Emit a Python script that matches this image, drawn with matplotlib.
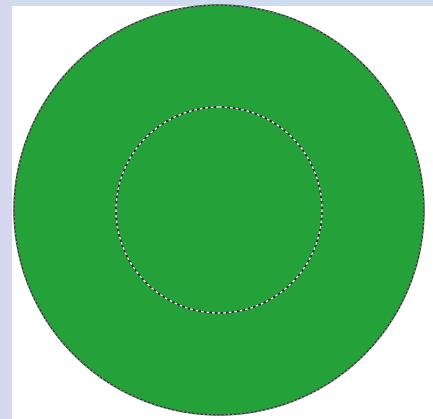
import matplotlib
matplotlib.use("Agg")
import matplotlib.pyplot as plt
from matplotlib.patches import Circle, Rectangle

# ring diagram: outer disc and inner circle (radii in px)
labels = ["outer", "inner"]
radii = [205, 103]
fill_colours = ["#25a139", "#25a139"]

W, H = 433, 419
cx, cy = 219, 210

fig = plt.figure(figsize=(W / 100, H / 100), dpi=100)
fig.patch.set_facecolor("#cfdcf0")
ax = fig.add_axes([0, 0, 1, 1])
ax.set_xlim(0, W)
ax.set_ylim(H, 0)
ax.axis("off")

# left strip has a slight lavender tint
ax.add_patch(Rectangle((0, 0), 12, H, facecolor="#d6d8f0", edgecolor="none"))
# white panel
ax.add_patch(Rectangle((12, 6), W - 12, H - 6, facecolor="white", edgecolor="none"))

for r, col in zip(radii, fill_colours):
    ax.add_patch(Circle((cx, cy), r, facecolor=col, edgecolor="none"))

# outer edge: dark line with faint light dashes
ax.add_patch(Circle((cx, cy), radii[0], facecolor="none", edgecolor="#2b3a2e", lw=1.0))
ax.add_patch(Circle((cx, cy), radii[0], facecolor="none", edgecolor="#9fb5a3",
                    lw=0.6, linestyle=(0, (2, 3))))

# inner circle: dark / white dashed
ax.add_patch(Circle((cx, cy), radii[1], facecolor="none", edgecolor="#1f2a22", lw=1.2))
ax.add_patch(Circle((cx, cy), radii[1], facecolor="none", edgecolor="white",
                    lw=1.0, linestyle=(0, (2, 2))))

fig.savefig("out.png", dpi=100, facecolor=fig.get_facecolor())
